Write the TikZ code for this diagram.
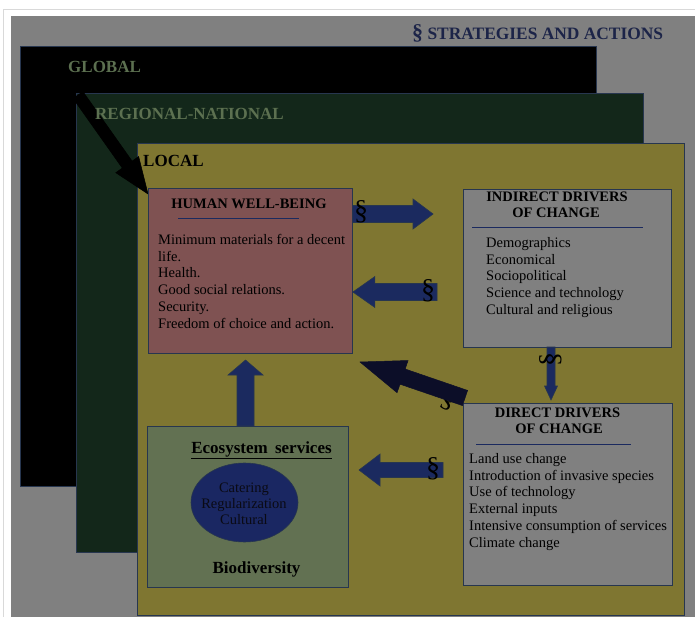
\documentclass[tikz,border=0pt]{standalone}
\usepackage{fontspec}
\setmainfont{Liberation Serif}
\usetikzlibrary{calc,shapes.geometric}
\definecolor{bggray}{HTML}{808080}
\definecolor{globalc}{HTML}{000000}
\definecolor{regc}{HTML}{13271A}
\definecolor{localc}{HTML}{7F7631}
\definecolor{rosec}{HTML}{7F5252}
\definecolor{ecoc}{HTML}{627152}
\definecolor{navyc}{HTML}{1B2A5F}
\definecolor{darkarr}{HTML}{0C0E28}
\definecolor{ellc}{HTML}{1A2762}
\definecolor{lvltext}{HTML}{5C7050}
\definecolor{boxline}{HTML}{27364F}
\definecolor{titlec}{HTML}{1C2448}
\definecolor{elltext}{HTML}{0A0A14}
\newcommand{\blockarrow}[6]{%
  \path ($(#3)!#6!(#2)$) coordinate (ba-h);
  \filldraw[#1] ($(#2)!#4!90:(#3)$) -- ($(ba-h)!#4!90:(#3)$) -- ($(ba-h)!#5!90:(#3)$) -- (#3) -- ($(ba-h)!#5!-90:(#3)$) -- ($(ba-h)!#4!-90:(#3)$) -- ($(#2)!#4!-90:(#3)$) -- cycle;
}
\begin{document}
\begin{tikzpicture}[x=1pt,y=-1pt,
  lvl/.style={draw=boxline, line width=0.8pt, inner sep=0pt, anchor=north west},
  boxx/.style={draw=boxline, line width=0.9pt, inner sep=0pt, anchor=north west},
  lvllabel/.style={anchor=base west, inner sep=0pt, font=\fontsize{17}{20}\selectfont\bfseries},
  btitle/.style={anchor=base, inner sep=0pt, align=center, font=\fontsize{14.5}{16}\selectfont\bfseries},
  items/.style={anchor=north west, inner sep=0pt, align=left, font=\fontsize{14.5}{16.75}\selectfont},
  sec/.style={inner sep=0pt, font=\fontsize{28}{30}\selectfont, text=black},
  ularrow/.style={fill=navyc, draw=boxline, line width=0.6pt},
  tline/.style={draw=navyc, line width=0.9pt}]
\useasboundingbox (0,0) rectangle (695,617);
\fill[white] (0,0) rectangle (695,617);
\draw[black!15, line width=1pt] (3.5,617) -- (3.5,9.5) -- (695,9.5);
\fill[bggray] (11,16) rectangle (695,617);

\node[anchor=base west, inner sep=0pt, text=titlec, font=\fontsize{17.4}{20}\selectfont\bfseries] (strat) at (412,40) {\fontsize{22}{22}\selectfont\S\fontsize{17.4}{20}\selectfont{} STRATEGIES AND ACTIONS};

% levels
\node[lvl, fill=globalc, minimum width=576pt, minimum height=440pt] (global) at (20,46) {};
\node[lvl, fill=regc, minimum width=567pt, minimum height=459pt] (regional) at (76,93) {};
\node[lvl, fill=localc, minimum width=547pt, minimum height=472pt] (local) at (137,143) {};

% global arrow
\coordinate (gs) at (78,95);
\coordinate (ge) at (148,194);
\blockarrow{fill=black, draw=black, line width=0.5pt}{gs}{ge}{6pt}{14pt}{36pt}

\node[lvllabel, text=lvltext] (tglobal) at (68,73) {GLOBAL};
\node[lvllabel, text=lvltext] (tregional) at (95,120) {REGIONAL-NATIONAL};
\node[lvllabel, text=black] (tlocal) at (143,167) {LOCAL};

% boxes
\node[boxx, fill=rosec, minimum width=204pt, minimum height=165pt] (hwb) at (148,188) {};
\node[boxx, fill=bggray, minimum width=208pt, minimum height=158pt] (ind) at (463,189) {};
\node[boxx, fill=bggray, minimum width=209pt, minimum height=182pt] (dir) at (463,403) {};
\node[boxx, fill=ecoc, minimum width=201pt, minimum height=161pt] (eco) at (147,426) {};
\node[ellipse, draw=boxline, line width=0.6pt, fill=ellc, minimum width=107pt, minimum height=79pt, inner sep=0pt] (ell) at (244.5,502.5) {};

% HWB text
\node[btitle] (thwb) at (249,209) {HUMAN WELL-BEING};
\draw[tline] (178,218) -- (299,218);
\node[items] (ihwb) at (158,234) {Minimum materials for a decent\\life.\\Health.\\Good social relations.\\Security.\\Freedom of choice and action.};

% Indirect
\node[btitle] (tind1) at (557,202) {INDIRECT DRIVERS};
\node[btitle] (tind2) at (556,218) {OF CHANGE};
\draw[tline] (472,227) -- (643,227);
\node[items] (iind) at (486,237) {Demographics\\Economical\\Sociopolitical\\Science and technology\\Cultural and religious};

% Direct
\node[btitle] (tdir1) at (557.5,417) {DIRECT DRIVERS};
\node[btitle] (tdir2) at (559,433) {OF CHANGE};
\draw[tline] (476,444) -- (631,444);
\node[items] (idir) at (469,453) {Land use change\\Introduction of invasive species\\Use of technology\\External inputs\\Intensive consumption of services\\Climate change};

% Ecosystem
\node[anchor=base, inner sep=0pt, font=\fontsize{17}{20}\selectfont\bfseries] (teco) at (261.5,453) {\underline{Ecosystem\hspace{3pt} services}};
\node[inner sep=0pt, align=center, text=elltext, font=\fontsize{14.5}{16}\selectfont] (tell) at (244,504) {Catering\\Regularization\\Cultural};
\node[anchor=base, inner sep=0pt, font=\fontsize{17}{20}\selectfont\bfseries] (tbio) at (256.5,573) {Biodiversity};

% block arrows
\coordinate (a1s) at (hwb.east |- 0,214);
\coordinate (a1e) at (433,214);
\blockarrow{ularrow}{a1s}{a1e}{8.5pt}{15pt}{20pt}
\node[sec] (s1) at (361,212) {\S};

\coordinate (a2s) at (437,292);
\coordinate (a2e) at (hwb.east |- 0,292);
\blockarrow{ularrow}{a2s}{a2e}{8.5pt}{15.5pt}{22pt}
\node[sec] (s2) at (428,291) {\S};

\coordinate (a3s) at (551,347);
\coordinate (a3e) at (551,400);
\blockarrow{ularrow}{a3s}{a3e}{4pt}{6.5pt}{14pt}
\node[sec, rotate=90] (s3) at (551,359) {\S};

\coordinate (a4s) at (245.5,426);
\coordinate (a4e) at (245.5,360);
\blockarrow{ularrow}{a4s}{a4e}{8.5pt}{17.5pt}{15pt}

\coordinate (a5s) at (443,470);
\coordinate (a5e) at (359,470);
\blockarrow{ularrow}{a5s}{a5e}{7.5pt}{16pt}{21pt}
\node[sec] (s5) at (433,469) {\S};

\node[sec, rotate=-25] (s6) at (449,399) {\S};
\coordinate (a6s) at (465,398);
\coordinate (a6e) at (360,362);
\blockarrow{fill=darkarr, draw=darkarr, line width=0.5pt}{a6s}{a6e}{8pt}{17pt}{45pt}
\end{tikzpicture}
\end{document}
